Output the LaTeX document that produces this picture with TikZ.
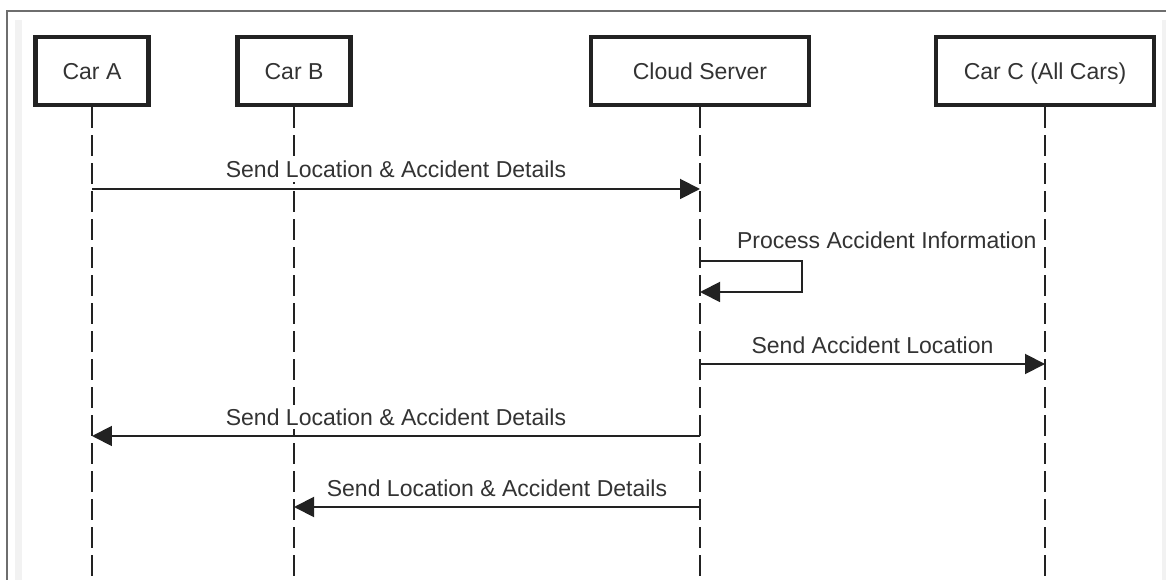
\documentclass[tikz,border=0pt]{standalone}
\usepackage{fontspec}
\setmainfont{Liberation Sans}
\usepackage{xcolor}
\usetikzlibrary{arrows.meta,positioning}

\definecolor{inkgray}{HTML}{222222}
\definecolor{textgray}{HTML}{333333}
\definecolor{framegray}{HTML}{6E6E6E}
\definecolor{stripgray}{HTML}{F2F2F2}

\begin{document}
\begin{tikzpicture}[
    x=0.02cm,
    y=-0.02cm,
    actor/.style={
        draw=inkgray,
        line width=2.4pt,
        fill=white,
        align=center,
        text=textgray,
        text height=9.4pt,
        text depth=0pt,
        minimum height=1.36cm,
        font=\fontsize{13.1}{15}\selectfont
    },
    lifeline/.style={
        draw=inkgray,
        line width=1.1pt,
        dash pattern=on 0.42cm off 0.14cm
    },
    msg/.style={
        draw=inkgray,
        line width=1.1pt,
        -{Triangle[length=0.4cm,width=0.4cm]}
    },
    msglabel/.style={
        text=textgray,
        fill=white,
        anchor=base,
        inner xsep=1pt,
        inner ysep=2pt,
        font=\fontsize{13.1}{15}\selectfont
    }
]

% ==================================================
% Page frame
% ==================================================

\useasboundingbox (0,0) rectangle (1166,580);
\fill[stripgray] (15,20) rectangle (22,580);
\fill[stripgray] (1162,20) rectangle (1166,580);
\draw[framegray, line width=1.1pt] (7,580) -- (7,11) -- (1166,11);


% ==================================================
% Participants
% ==================================================

\node[actor, minimum width=2.26cm] (carA) at (92,71) {Car A};
\node[actor, minimum width=2.26cm] (carB) at (294,71) {Car B};
\node[actor, minimum width=4.36cm] (cloud) at (700,71) {Cloud Server};
\node[actor, minimum width=4.36cm] (carC) at (1045,71) {Car C (All Cars)};


% ==================================================
% Lifelines
% ==================================================

\coordinate (bottom) at (0,578);

\draw[lifeline] (carA.south) -- (carA |- bottom);
\draw[lifeline] (carB.south) -- (carB |- bottom);
\draw[lifeline] (cloud.south) -- (cloud |- bottom);
\draw[lifeline] (carC.south) -- (carC |- bottom);


% ==================================================
% Messages
% ==================================================

\coordinate (row1) at (0,189);
\coordinate (row2) at (0,261);
\coordinate (row3) at (0,364);
\coordinate (row4) at (0,436);
\coordinate (row5) at (0,507);
\coordinate (loop) at (802,292);

% Car A to cloud
\draw[msg] (carA |- row1) -- (cloud |- row1)
    node[msglabel, midway, yshift=0.22cm] {Send Location \& Accident Details};

% Cloud to itself
\draw[msg] (cloud |- row2) -- (loop |- row2) -- (loop) -- (cloud |- loop);
\node[msglabel, anchor=base west] (proc) at (735,249)
    {Process Accident Information};

% Cloud to all cars
\draw[msg] (cloud |- row3) -- (carC |- row3)
    node[msglabel, midway, yshift=0.22cm] {Send Accident Location};

% Cloud back to car A
\draw[msg] (cloud |- row4) -- (carA |- row4)
    node[msglabel, midway, yshift=0.22cm] {Send Location \& Accident Details};

% Cloud back to car B
\draw[msg] (cloud |- row5) -- (carB |- row5)
    node[msglabel, midway, yshift=0.22cm] {Send Location \& Accident Details};

\end{tikzpicture}
\end{document}
